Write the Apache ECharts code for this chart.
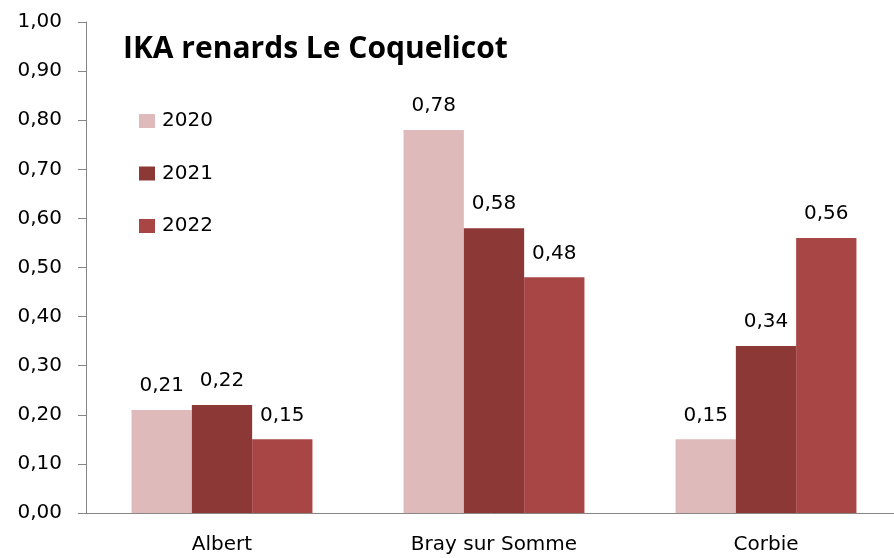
<!DOCTYPE html>
<html><head><meta charset="utf-8">
<script src="https://cdn.jsdelivr.net/npm/echarts@6/dist/echarts.min.js"></script>
<style>html,body{margin:0;padding:0;background:#fff}#c{width:894px;height:558px}</style>
</head><body><div id="c"></div>
<script>
const categories = ['Albert', 'Bray sur Somme', 'Corbie'];
const seriesNames = ['2020', '2021', '2022'];
const values2020 = [0.21, 0.78, 0.15];
const values2021 = [0.22, 0.58, 0.34];
const values2022 = [0.15, 0.48, 0.56];
const colors = ['#DFBABA', '#8C3836', '#A84645'];
const font = 'DejaVu Sans';
const fmt = v => v.toFixed(2).replace('.', ',');
const chart = echarts.init(document.getElementById('c'));
const data = [values2020, values2021, values2022];
chart.setOption({
  animation: false,
  textStyle: {fontFamily: font},
  title: {text: 'IKA renards Le Coquelicot', left: 118, top: 29,
    textStyle: {fontFamily: 'Open Sans', fontWeight: 'bold', fontSize: 30, color: '#000'}},
  legend: {orient: 'vertical', left: 139, top: 111, padding: 0, itemWidth: 16, itemHeight: 14, itemGap: 32.5,
    icon: 'rect', textStyle: {fontSize: 20, color: '#000', fontFamily: font, lineHeight: 20, padding: [0, 0, 0, 2]}, data: seriesNames},
  grid: {left: 86, width: 816, top: 22, bottom: 45, outerBoundsMode: 'none', containLabel: false},
  xAxis: {type: 'category', data: categories,
    axisLine: {lineStyle: {color: '#868686'}},
    axisTick: {length: 8, lineStyle: {color: '#868686'}},
    axisLabel: {color: '#000', fontSize: 20, margin: 22, fontFamily: font}},
  yAxis: {type: 'value', min: 0, max: 1, interval: 0.1,
    axisLine: {show: true, lineStyle: {color: '#868686'}},
    axisTick: {show: true, length: 8, lineStyle: {color: '#868686'}},
    splitLine: {show: false},
    axisLabel: {color: '#000', fontSize: 20, margin: 24, fontFamily: font, formatter: fmt}},
  series: seriesNames.map((n, i) => ({
    name: n, type: 'bar', data: data[i], barGap: '0%', barCategoryGap: '33.5%',
    itemStyle: {color: colors[i]},
    label: {show: true, position: 'top', distance: 14, color: '#000', fontSize: 20, fontFamily: font,
      formatter: p => fmt(p.value)}
  }))
});
</script></body></html>
